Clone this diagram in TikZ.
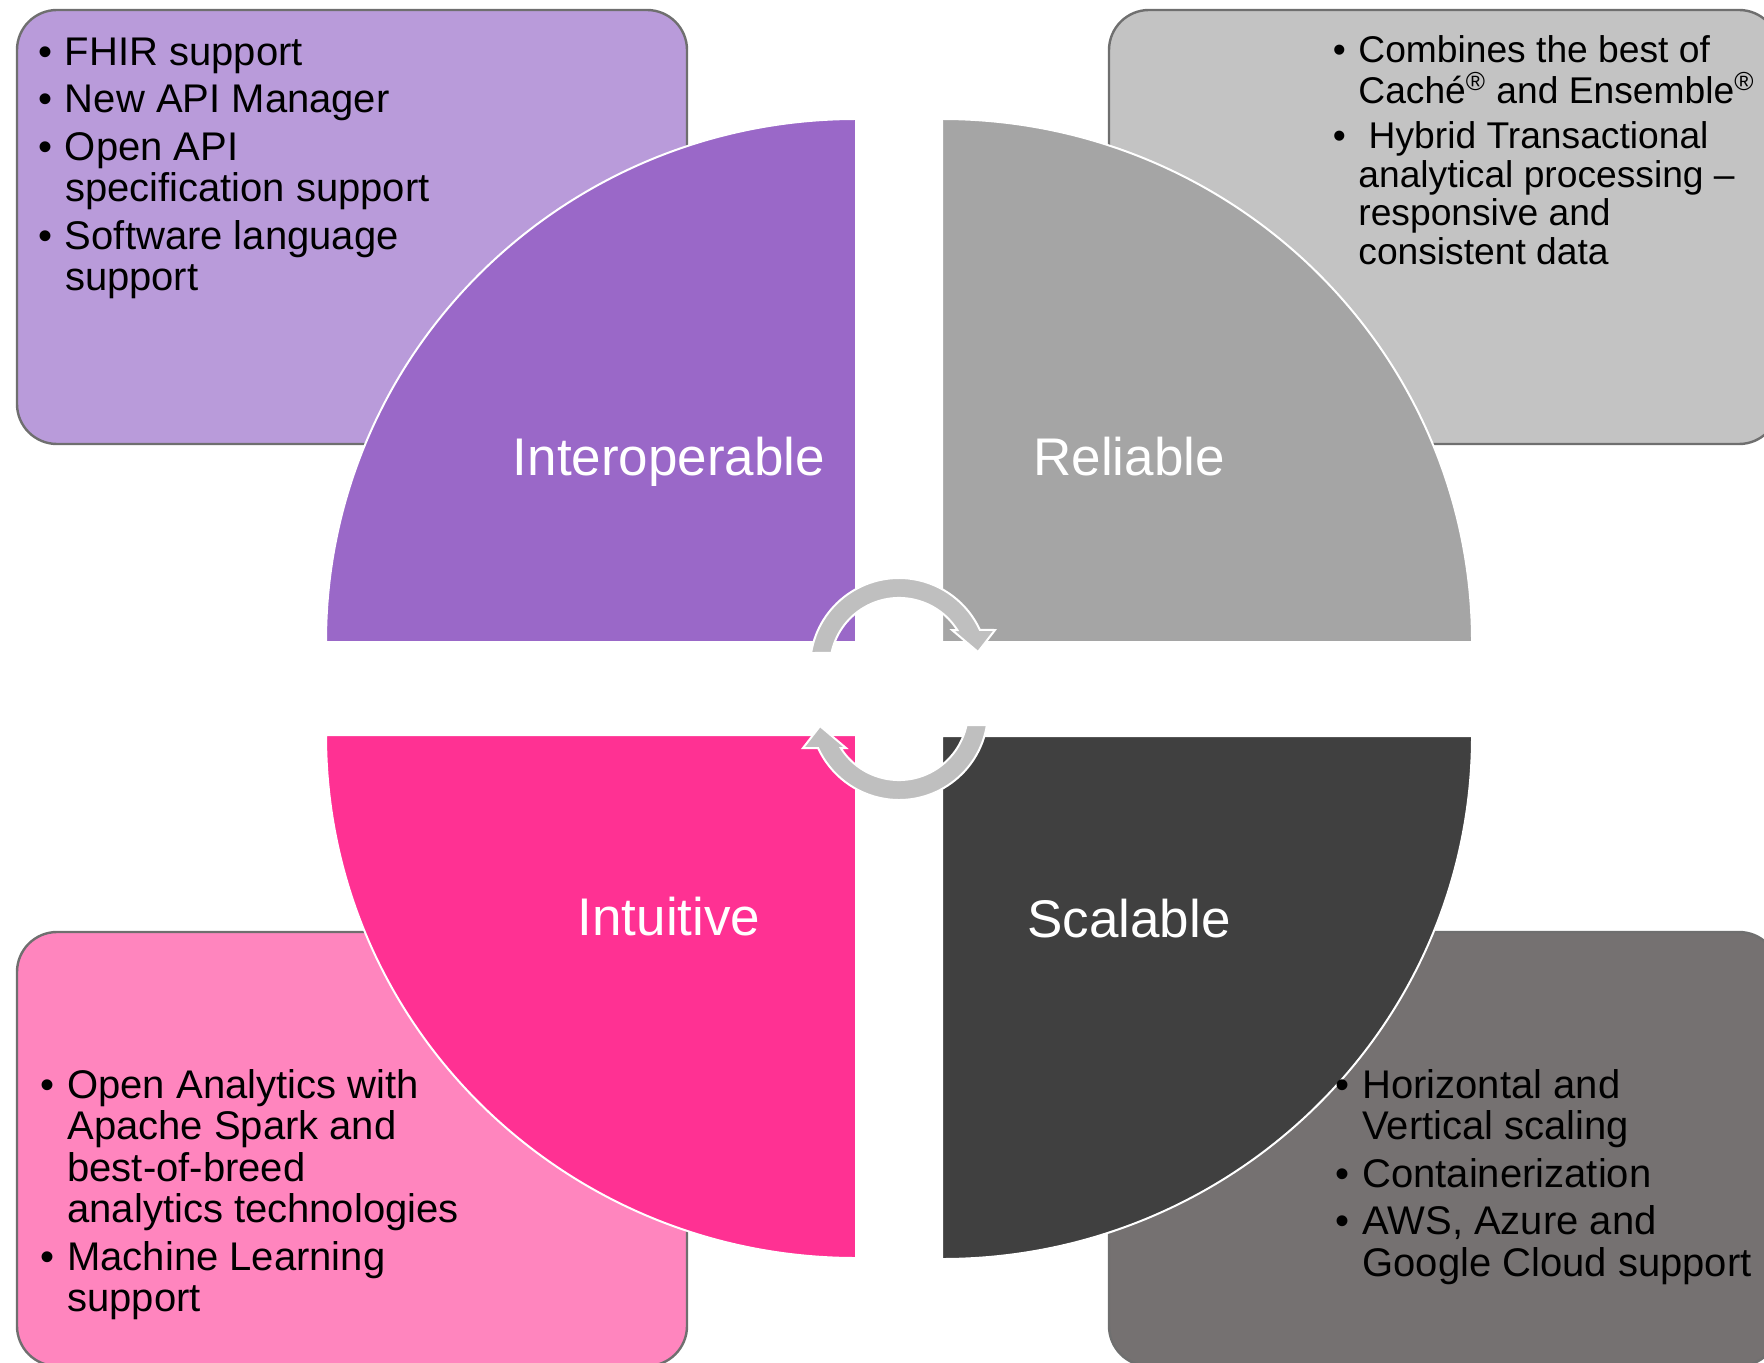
\documentclass[tikz,border=0pt]{standalone}
\usepackage{fontspec}
\setmainfont{Liberation Sans}
\definecolor{purplebox}{HTML}{B99BDA}
\definecolor{purplequad}{HTML}{9A68C8}
\definecolor{graybox}{HTML}{C3C3C3}
\definecolor{grayquad}{HTML}{A5A5A5}
\definecolor{pinkbox}{HTML}{FF85BE}
\definecolor{pinkquad}{HTML}{FF3193}
\definecolor{darkbox}{HTML}{757171}
\definecolor{darkquad}{HTML}{404040}
\definecolor{boxline}{HTML}{6F6F6F}
\definecolor{arrowgray}{HTML}{BFBFBF}
\newcommand\bulA{\makebox[13.5pt][l]{•}}
\newcommand\indA{\hspace*{13.5pt}}
\newcommand\bulB{\makebox[12.75pt][l]{•}}
\newcommand\indB{\hspace*{12.75pt}}
\newcommand\regm{\smash{\textsuperscript{®}}}
\begin{document}
\begin{tikzpicture}[x=0.5pt,y=-0.5pt,
  infobox/.style={draw=boxline, line width=1.2pt, rounded corners=20pt},
  quad/.style={draw=white, line width=1pt},
  lbl/.style={text=white, font=\fontsize{26.5}{30}\selectfont, anchor=base, inner sep=0pt},
  txt/.style={anchor=north west, inner sep=0pt, align=left, text=black, font=\fontsize{20}{20.75}\selectfont},
  txtsm/.style={anchor=north west, inner sep=0pt, align=left, text=black, font=\fontsize{18.6}{19.35}\selectfont},
  cyc/.style={fill=arrowgray, draw=white, line width=1pt, line join=miter}]
\useasboundingbox (0,0) rectangle (1764,1363);
\clip (0,0) rectangle (1764,1363);

% info boxes
\draw[infobox, fill=purplebox] (17,10) rectangle (687,444);
\draw[infobox, fill=graybox] (1109,10) rectangle (1779,444);
\draw[infobox, fill=pinkbox] (17,932) rectangle (687,1366);
\draw[infobox, fill=darkbox] (1109,932) rectangle (1779,1366);

% quadrants
\draw[quad, fill=purplequad] (856,642) -- (326,642) arc[start angle=180, end angle=270, x radius=530, y radius=523] -- cycle;
\draw[quad, fill=grayquad] (942,642) -- (942,119) arc[start angle=270, end angle=360, x radius=530, y radius=523] -- cycle;
\draw[quad, fill=darkquad] (942,736) -- (1472,736) arc[start angle=0, end angle=90, x radius=530, y radius=523] -- cycle;
\draw[quad, fill=pinkquad] (856,735) -- (856,1258) arc[start angle=90, end angle=180, x radius=530, y radius=523] -- cycle;

% labels
\node[lbl] (interop) at (669,475) {Interoperable};
\node[lbl] (reliable) at (1129,475) {Reliable};
\node[lbl] (intuitive) at (669,935) {Intuitive};
\node[lbl] (scalable) at (1129,937) {Scalable};

% circular arrows
\draw[cyc] (811.1,653) arc[start angle=189.05, end angle=335.4, radius=89]
  -- (995,630) -- (978,652) -- (952,630) -- (957.3,630)
  arc[start angle=327.6, end angle=191.7, radius=69] -- cycle;
\begin{scope}[rotate around={180:(899,689)}]
\draw[cyc] (811.1,653) arc[start angle=189.05, end angle=335.4, radius=89]
  -- (995,630) -- (978,652) -- (952,630) -- (957.3,630)
  arc[start angle=327.6, end angle=191.7, radius=69] -- cycle;
\end{scope}

% texts
\node[txt] (tltext) at (37.6,35.95) {\strut\bulA FHIR support\\[3pt]
\bulA New API Manager\\[3pt]
\bulA Open API\\
\indA specification support\\[3pt]
\bulA Software language\\
\indA support};

\node[txtsm] (trtext) at (1332.5,34.9) {\strut\bulB Combines the best of\\
\indB Caché\regm{} and Ensemble\regm\\[3.15pt]
\bulB\ Hybrid Transactional\\
\indB analytical processing –\\
\indB responsive and\\
\indB consistent data};

\node[txt] (bltext) at (40,1069) {\strut\bulA Open Analytics with\\
\indA Apache Spark and\\
\indA best-of-breed\\
\indA analytics technologies\\[3pt]
\bulA Machine Learning\\
\indA support};

\node[txt] (brtext) at (1335,1069) {\strut\bulA Horizontal and\\
\indA Vertical scaling\\[3pt]
\bulA Containerization\\[3pt]
\bulA AWS, Azure and\\
\indA Google Cloud support};
\end{tikzpicture}
\end{document}
